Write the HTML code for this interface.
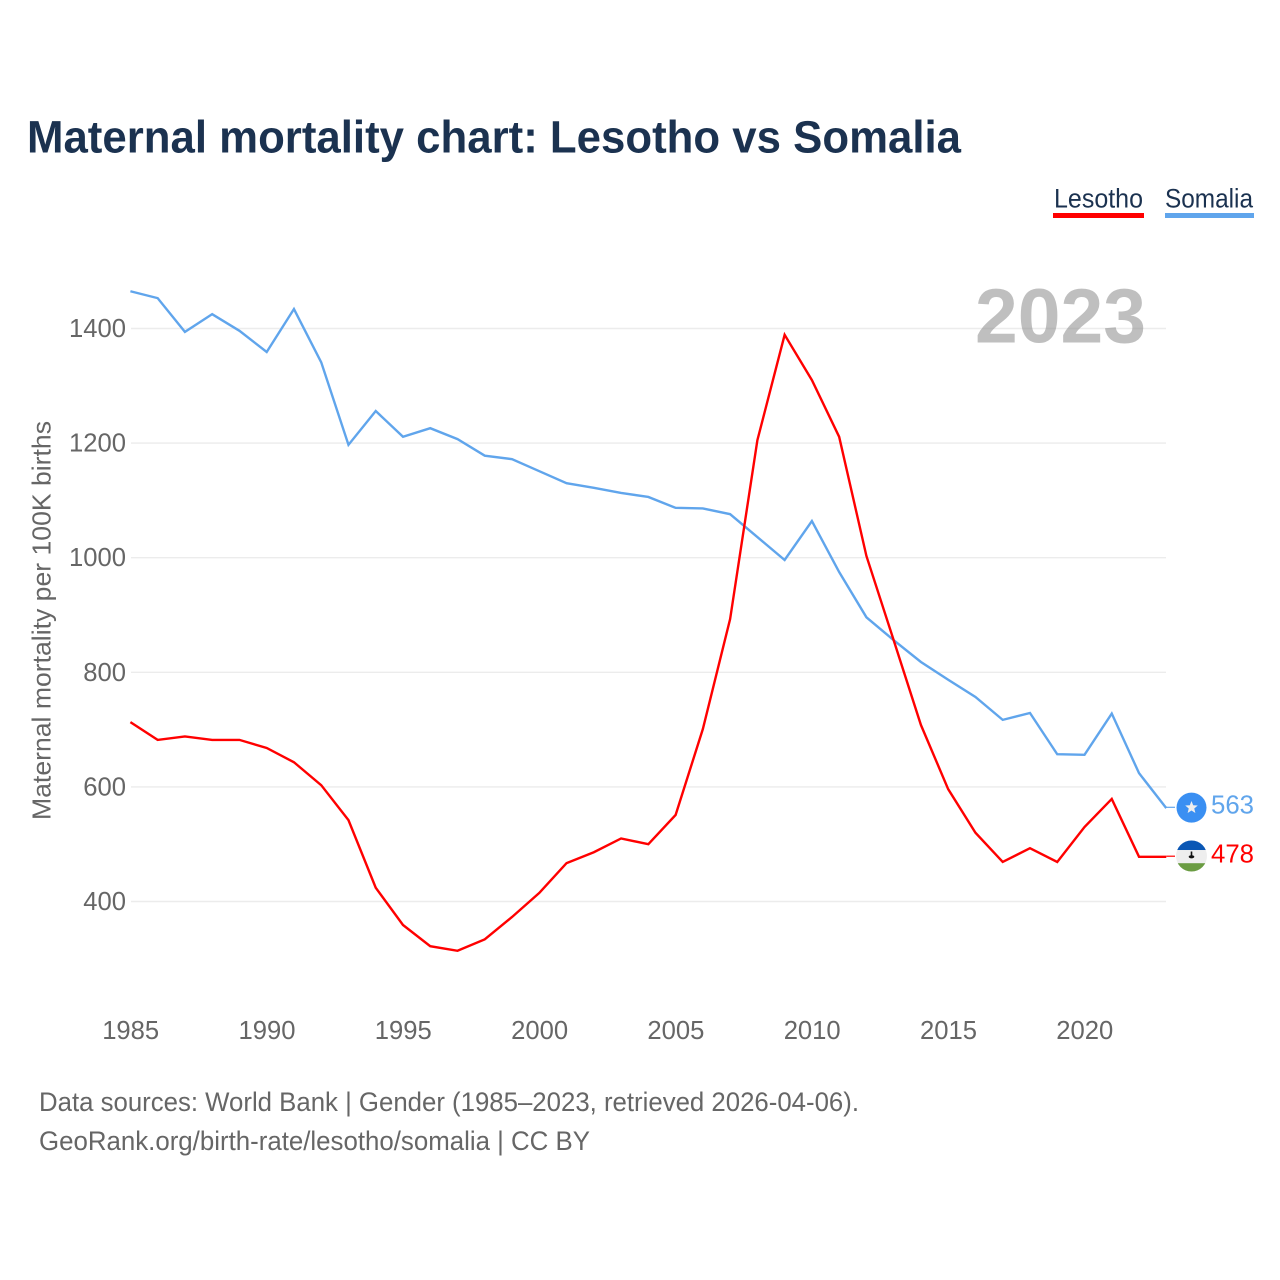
<!DOCTYPE html>
<html lang="en">
<head>
<meta charset="utf-8">
<title>Maternal mortality chart: Lesotho vs Somalia</title>
<style>
html,body{margin:0;padding:0;background:#fff;}
body{width:1280px;height:1280px;overflow:hidden;}
svg{display:block;font-family:"Liberation Sans",sans-serif;}
</style>
</head>
<body>
<svg id="chart" width="1280" height="1280" viewBox="0 0 1280 1280" xmlns="http://www.w3.org/2000/svg">
  <rect x="0" y="0" width="1280" height="1280" fill="#ffffff"/>
  <text x="27" y="152.5" font-size="45" font-weight="700" fill="#1b3250" textLength="934" lengthAdjust="spacingAndGlyphs">Maternal mortality chart: Lesotho vs Somalia</text>

  <g>
    <text x="1054" y="207.5" font-size="27" fill="#1b3250" textLength="89" lengthAdjust="spacingAndGlyphs">Lesotho</text>
    <rect x="1053" y="213" width="91" height="5" fill="#ff0000"/>
  </g>
  <g>
    <text x="1165" y="207.5" font-size="27" fill="#1b3250" textLength="88" lengthAdjust="spacingAndGlyphs">Somalia</text>
    <rect x="1165" y="213" width="89" height="5" fill="#60a5ec"/>
  </g>

  <g id="grid"></g>
  <text x="975" y="342.5" font-size="77" font-weight="700" fill="#808080" fill-opacity="0.5" textLength="171" lengthAdjust="spacingAndGlyphs">2023</text>
  <g id="yticks"></g>
  <g id="xticks"></g>
  <text transform="translate(50.5,820) rotate(-90)" x="0" y="0" font-size="26" fill="#666666" textLength="399" lengthAdjust="spacingAndGlyphs">Maternal mortality per 100K births</text>

  <g id="series"></g>

  <defs>
    <clipPath id="lesotho-clip"><circle id="lesotho-clip-circle" cx="1191.5" cy="856" r="15.5"/></clipPath>
  </defs>
  <g id="end-markers"></g>

  <text x="39" y="1111" font-size="27" fill="#666666" textLength="820" lengthAdjust="spacingAndGlyphs">Data sources: World Bank | Gender (1985–2023, retrieved 2026-04-06).</text>
  <text x="39" y="1150" font-size="27" fill="#666666" textLength="551" lengthAdjust="spacingAndGlyphs">GeoRank.org/birth-rate/lesotho/somalia | CC BY</text>
</svg>

<script>
const years = [1985,1986,1987,1988,1989,1990,1991,1992,1993,1994,1995,1996,1997,1998,1999,2000,2001,2002,2003,2004,2005,2006,2007,2008,2009,2010,2011,2012,2013,2014,2015,2016,2017,2018,2019,2020,2021,2022,2023];
const lesothoValues = [713,682,688,682,682,668,643,603,542,424,359,322,314,334,373,415,467,486,510,500,551,701,893,1205,1389,1310,1211,1003,856,708,596,520,469,493,469,530,579,478,478];
const somaliaValues = [1465,1453,1394,1425,1396,1359,1434,1341,1197,1256,1211,1226,1207,1178,1172,1151,1130,1122,1113,1106,1087,1086,1076,1036,996,1064,975,896,856,818,787,757,717,729,657,656,728,624,563];
const yTickValues = [400,600,800,1000,1200,1400];
const xTickYears = [1985,1990,1995,2000,2005,2010,2015,2020];

const NS = 'http://www.w3.org/2000/svg';
function xScale(year){ return 130.4 + (year - 1985) * 27.26; }
function yScale(v){ return 901.5 - (v - 400) * 0.573; }
function make(tag, attrs, parent, text){
  const el = document.createElementNS(NS, tag);
  for (const k in attrs) el.setAttribute(k, attrs[k]);
  if (text !== undefined) el.textContent = text;
  parent.appendChild(el);
  return el;
}

const grid = document.getElementById('grid');
const yticks = document.getElementById('yticks');
yTickValues.forEach(function(v){
  const line = make('line', {x1:131, x2:1166, y1:yScale(v), y2:yScale(v), stroke:'#ececec', 'stroke-width':1.4}, grid);
  
  
  const label = make('text', {x:126, y:yScale(v)+8.5, 'text-anchor':'end', 'font-size':26, fill:'#666666', textLength:(String(v).length*14.25), lengthAdjust:'spacingAndGlyphs'}, yticks, String(v));
  
  
});

const xticks = document.getElementById('xticks');
xTickYears.forEach(function(yr){
  const label = make('text', {x:xScale(yr)+0.3, y:1039, 'text-anchor':'middle', 'font-size':26, fill:'#666666', textLength:57, lengthAdjust:'spacingAndGlyphs'}, xticks, String(yr));
  
  
});

function pathFor(values){
  return values.map(function(v,i){ return (i?'L':'M') + xScale(years[i]).toFixed(2) + ' ' + yScale(v).toFixed(2); }).join(' ');
}
const series = document.getElementById('series');
const somaliaLine = make('path', {d:pathFor(somaliaValues), fill:'none', stroke:'#60a5ec', 'stroke-width':2.4, 'stroke-linejoin':'miter'}, series);


const lesothoLine = make('path', {d:pathFor(lesothoValues), fill:'none', stroke:'#ff0000', 'stroke-width':2.4, 'stroke-linejoin':'miter'}, series);



const markers = document.getElementById('end-markers');
const lastYear = years[years.length-1];
const lastSomalia = somaliaValues[somaliaValues.length-1];
const lastLesotho = lesothoValues[lesothoValues.length-1];
const sy = yScale(lastSomalia);
const ly = yScale(lastLesotho);
const cx = 1191.5;

const somaliaConnector = make('line', {x1:xScale(lastYear), x2:1175, y1:sy-0.8, y2:sy-0.8, stroke:'#60a5ec', 'stroke-width':1.2}, markers);


const lesothoConnector = make('line', {x1:xScale(lastYear), x2:1175, y1:ly-0.6, y2:ly-0.6, stroke:'#ff0000', 'stroke-width':1.2}, markers);



const somaliaFlag = make('g', {}, markers);


make('circle', {cx:cx, cy:sy-0.5, r:15, fill:'#3a8ff2'}, somaliaFlag);
const pts = [];
for (let i = 0; i < 10; i++){
  const r = i % 2 ? 2.9 : 6.6;
  const a = -Math.PI/2 + i * Math.PI/5;
  pts.push((cx + r*Math.cos(a)).toFixed(2) + ',' + (sy - 0.5 + r*Math.sin(a)).toFixed(2));
}
make('polygon', {points:pts.join(' '), fill:'#eeeeee'}, somaliaFlag);

document.getElementById('lesotho-clip-circle').setAttribute('cy', ly - 0.8);
const lesothoFlag = make('g', {'clip-path':'url(#lesotho-clip)'}, markers);


make('rect', {x:cx-16, y:ly-16.8, width:32, height:32, fill:'#eeeeee'}, lesothoFlag);
make('rect', {x:cx-16, y:ly-16.8, width:32, height:10, fill:'#0a57b5'}, lesothoFlag);
make('rect', {x:cx-16, y:ly+6.4, width:32, height:9, fill:'#6a9c42'}, lesothoFlag);
make('rect', {x:cx-0.8, y:ly-5.3, width:1.6, height:5, fill:'#111111'}, lesothoFlag);
make('ellipse', {cx:cx, cy:ly, rx:2.8, ry:1.6, fill:'#111111'}, lesothoFlag);

const somaliaLabel = make('text', {x:1211, y:sy+5.5, 'font-size':26, fill:'#60a5ec', textLength:43, lengthAdjust:'spacingAndGlyphs'}, markers, String(lastSomalia));


const lesothoLabel = make('text', {x:1211, y:ly+5.5, 'font-size':26, fill:'#ff0000', textLength:43, lengthAdjust:'spacingAndGlyphs'}, markers, String(lastLesotho));


</script>
</body>
</html>
